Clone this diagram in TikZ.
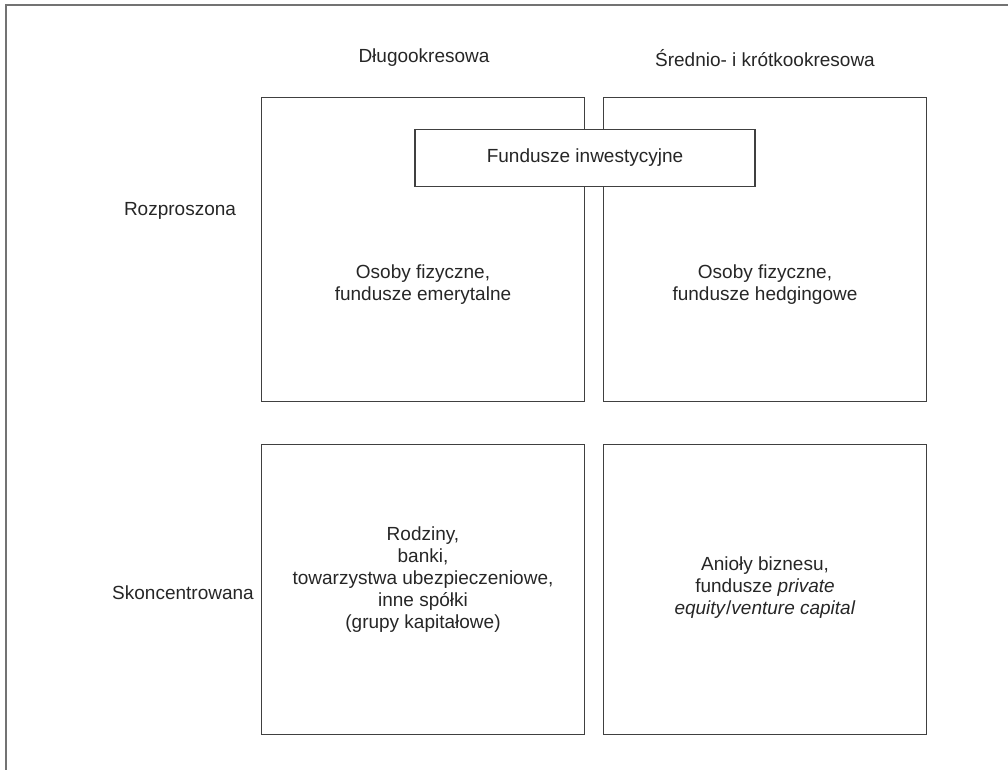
\documentclass[tikz,border=0pt]{standalone}
\usepackage{fontspec}
\setmainfont{Liberation Sans}
\begin{document}
\begin{tikzpicture}[x=1pt,y=-1pt,
  cell/.style={draw=black!75,line width=1.4pt,minimum width=323pt,minimum height=304pt,anchor=north west,inner sep=0pt},
  lowcell/.style={cell,minimum height=290pt},
  label/.style={font=\fontsize{19}{22}\selectfont,align=center,text=black!85},
  frameline/.style={draw=black!55,line width=2pt}]
\useasboundingbox (0,0) rectangle (1008,770);
% page frame (top and left edges)
\coordinate (fa) at (1008,5);
\coordinate (fb) at (6,5);
\coordinate (fc) at (6,770);
\draw[frameline] (fa) -- (fb) -- (fc);
% column and row headings
\node[label] (hlong) at (424,58) {Długookresowa};
\node[label] (hshort) at (765,58) {Średnio- i krótkookresowa};
\node[label] (rdisp) at (180,211) {Rozproszona};
\node[label] (rconc) at (183,593) {Skoncentrowana};
% the four cells
\node[cell] (tl) at (261,97) {};
\node[cell] (tr) at (603,97) {};
\node[lowcell] (bl) at (261,444) {};
\node[lowcell] (br) at (603,444) {};
% cell contents
\node[label] (ttl) at (423,285) {Osoby fizyczne,\\fundusze emerytalne};
\node[label] (ttr) at (765,285) {Osoby fizyczne,\\fundusze hedgingowe};
\node[label] (tbl) at (423,580) {Rodziny,\\banki,\\towarzystwa ubezpieczeniowe,\\inne spółki\\(grupy kapitałowe)};
\node[label] (tbr) at (765,588) {Anioły biznesu,\\fundusze \textit{private}\\\textit{equity}/\textit{venture capital}};
% box spanning both columns
\node[draw=black!75,line width=1.4pt,fill=white,minimum width=340pt,minimum height=57pt,label,inner sep=0pt] (fund) at (585,158) {Fundusze inwestycyjne};
\end{tikzpicture}
\end{document}
